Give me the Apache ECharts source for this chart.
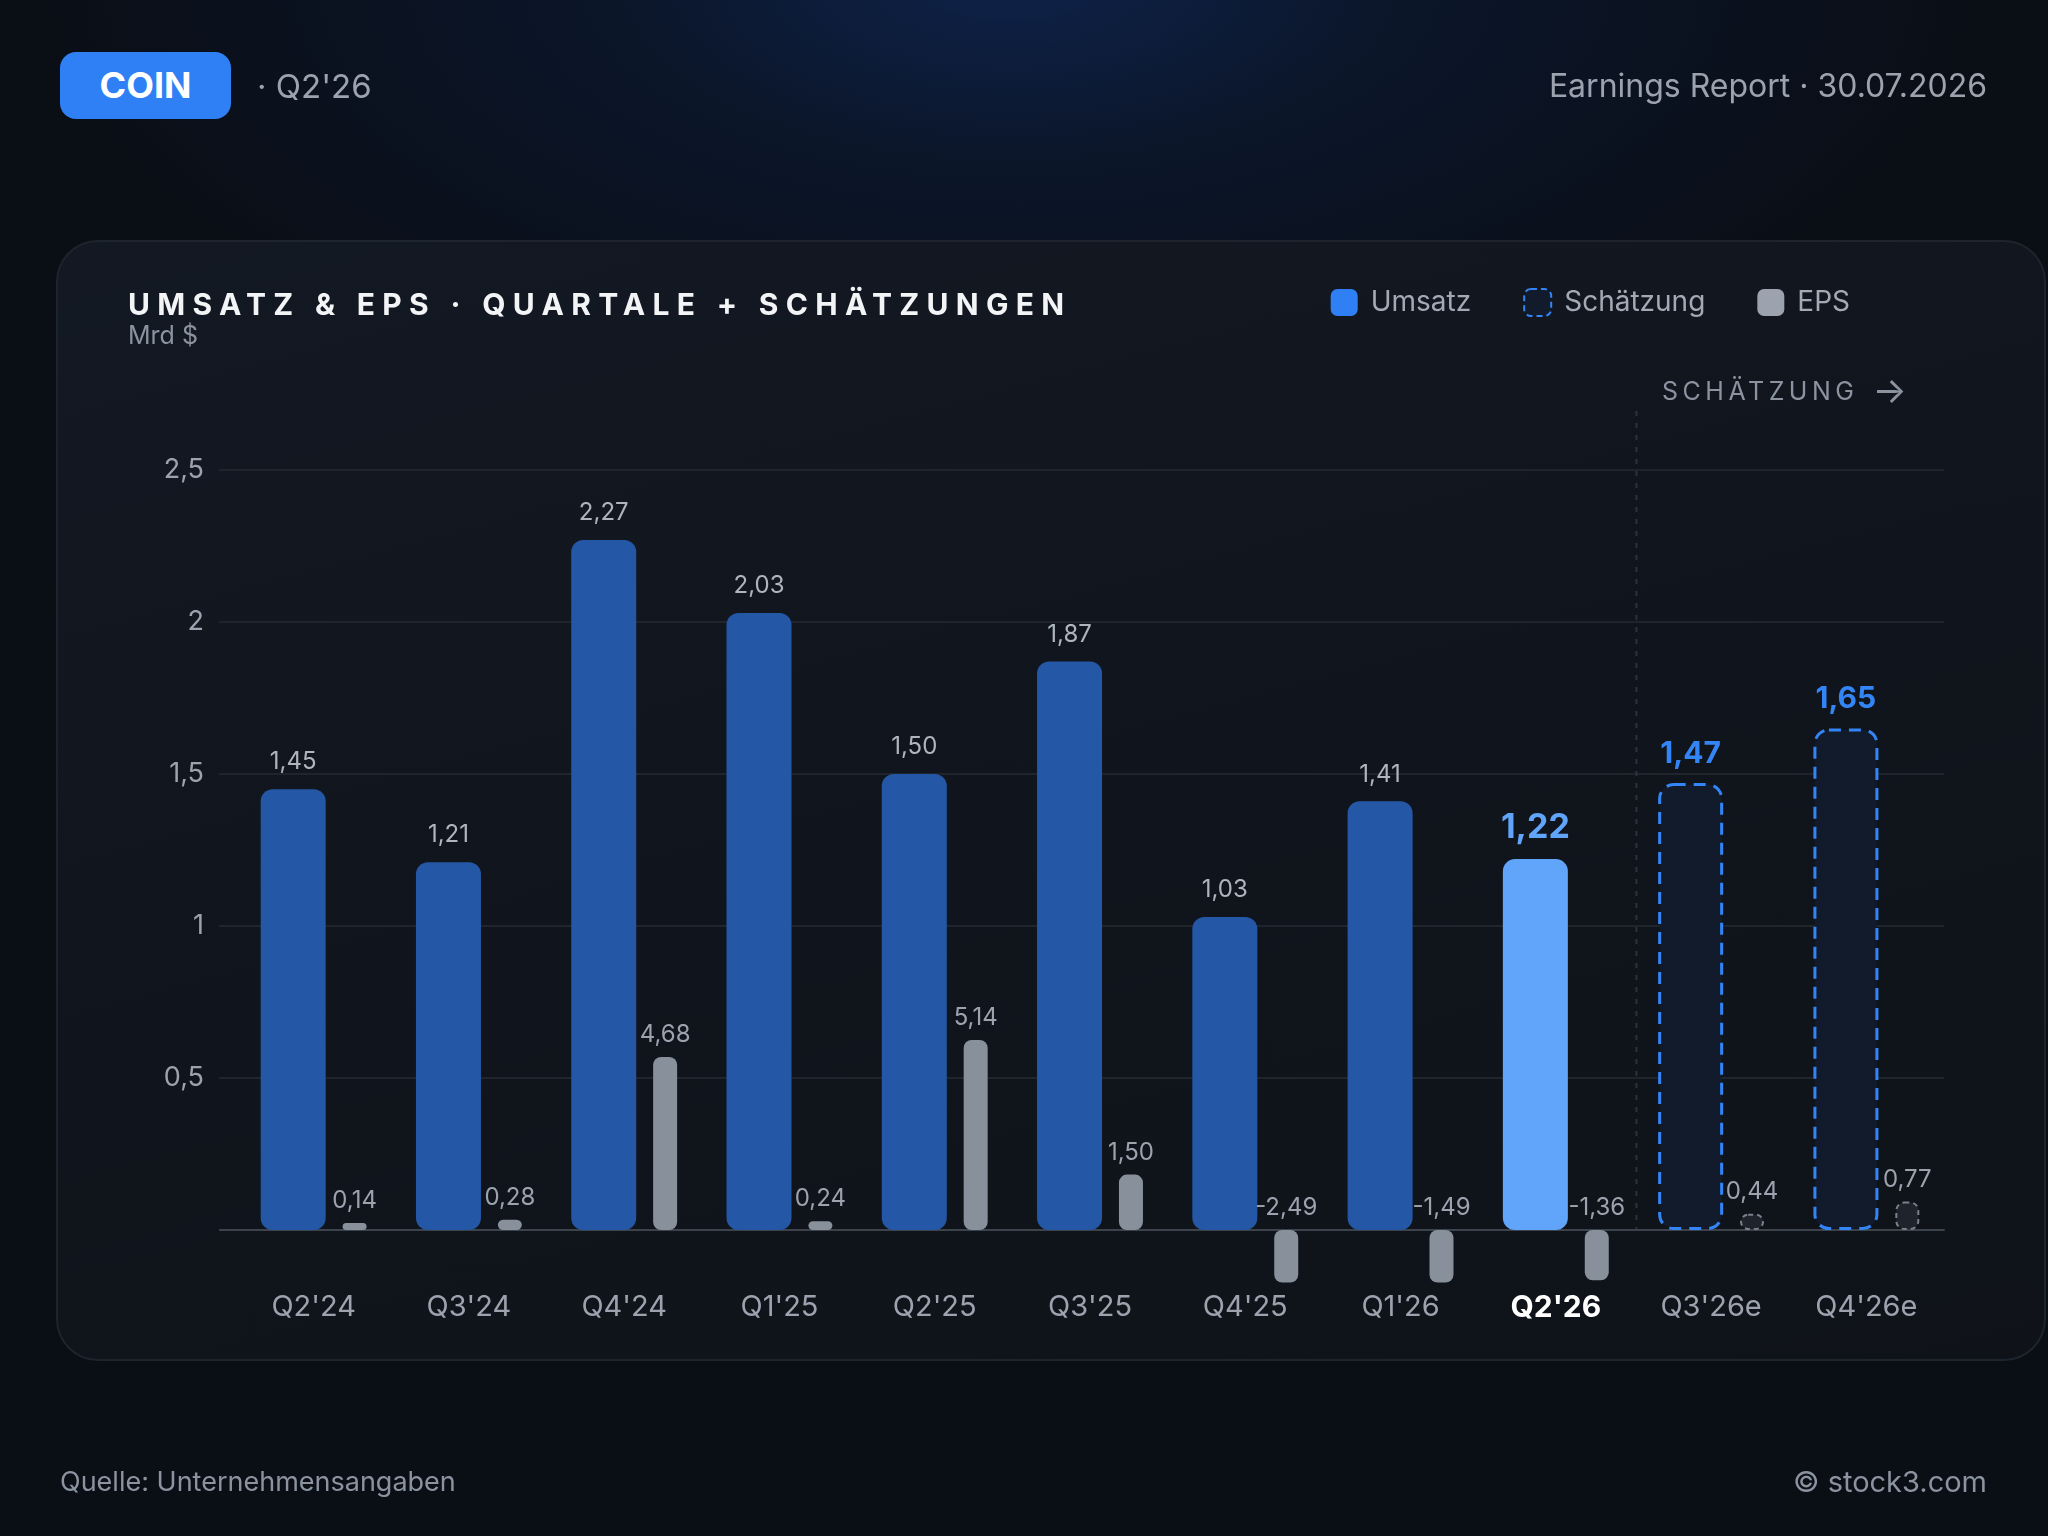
<!DOCTYPE html>
<html><head><meta charset="utf-8">
<script src="https://cdn.jsdelivr.net/npm/echarts@6/dist/echarts.min.js"></script>
<style>
html,body{margin:0;padding:0;width:2048px;height:1536px;overflow:hidden;background:#0a0e15;font-family:Inter,'Noto Sans',sans-serif;}
#bg{position:absolute;left:0;top:0;width:2048px;height:1536px;
 background:radial-gradient(ellipse 1000px 460px at 1010px -20px, #0e2249 0%, rgba(12,26,52,0.65) 40%, rgba(10,14,21,0) 100%), #0a0e15;}
#card{position:absolute;left:56px;top:240px;width:1990px;height:1121px;box-sizing:border-box;border:2px solid #1e242e;border-radius:42px;
 background:linear-gradient(165deg,#131923 0%,#10141c 55%,#0f1319 100%);}
#chart{position:absolute;left:0;top:0;width:2048px;height:1536px;}
.t{position:absolute;white-space:nowrap;}
#badge{left:60px;top:52px;width:171px;height:67px;border-radius:16px;background:#2f80f5;color:#fff;font-weight:700;font-size:36px;line-height:67px;text-align:center;}
#period{left:257px;top:69px;font-size:33px;line-height:34px;color:#9ca3af;}
#report{right:61px;top:70px;font-size:32px;line-height:32px;color:#9ca3af;}
#title{left:128px;top:289px;font-size:30px;line-height:30px;font-weight:700;letter-spacing:7.3px;color:#f3f4f6;}
#unit{left:128px;top:322px;font-size:25px;line-height:26px;color:#8b93a0;}
#est{left:1662px;top:377px;font-size:25px;line-height:26px;letter-spacing:4.5px;color:#8b93a0;}
#est span{font-size:36px;letter-spacing:0;margin-left:14px;vertical-align:-3px;}
#src{left:60px;top:1468px;font-size:27px;line-height:28px;color:#8b93a0;}
#copy{right:61px;top:1467px;font-size:29px;line-height:30px;color:#8b93a0;}
</style>
</head><body>
<div id="bg"></div>
<div id="card"></div>
<div id="chart"></div>
<div class="t" id="badge">COIN</div>
<div class="t" id="period">· Q2'26</div>
<div class="t" id="report">Earnings Report · 30.07.2026</div>
<div class="t" id="title">UMSATZ &amp; EPS · QUARTALE + SCHÄTZUNGEN</div>
<div class="t" id="unit">Mrd $</div>
<div class="t" id="est">SCHÄTZUNG<span>→</span></div>
<div class="t" id="src">Quelle: Unternehmensangaben</div>
<div class="t" id="copy">© stock3.com</div>
<script>
// ---- data ----
const CATEGORIES = ["Q2'24","Q3'24","Q4'24","Q1'25","Q2'25","Q3'25","Q4'25","Q1'26","Q2'26","Q3'26e","Q4'26e"];
const REVENUE = [1.45, 1.21, 2.27, 2.03, 1.50, 1.87, 1.03, 1.41, 1.22, 1.47, 1.65];
const EPS = [0.14, 0.28, 4.68, 0.24, 5.14, 1.50, -2.49, -1.49, -1.36, 0.44, 0.77];
const IS_ESTIMATE = [false, false, false, false, false, false, false, false, false, true, true];
const CURRENT_INDEX = 8;
const Y_TICKS = [0, 0.5, 1, 1.5, 2, 2.5];

const EPS_FLOOR = -1.42;   // negative EPS bars are drawn truncated
const fmt = v => v.toFixed(2).replace('.', ',');

const revActual = REVENUE.map((v, i) => {
  if (IS_ESTIMATE[i]) return null;
  if (i === CURRENT_INDEX) return {value: v, itemStyle: {color: '#60a5fa'},
    label: {color: '#60a5fa', fontSize: 34, fontWeight: 'bold', distance: 14}};
  return v;
});
const revEst = REVENUE.map((v, i) => IS_ESTIMATE[i] ? v : null);
const epsActual = EPS.map((v, i) => IS_ESTIMATE[i] ? null : {value: Math.max(v, EPS_FLOOR)});
const epsEst = EPS.map((v, i) => IS_ESTIMATE[i] ? {value: v} : null);

const chart = echarts.init(document.getElementById('chart'), null, {renderer: 'canvas'});
const epsLabel = {show: true, position: 'top', distance: 10, fontSize: 24, color: '#9ca3af', fontFamily: 'Inter',
  formatter: p => fmt(EPS[p.dataIndex])};

chart.setOption({
  backgroundColor: 'transparent',
  textStyle: {fontFamily: 'Inter'},
  animation: false,
  legend: {
    right: 198, top: 288, itemWidth: 27, itemHeight: 27, itemGap: 52, padding: 0,
    icon: 'roundRect',
    textStyle: {fontSize: 28, color: '#a3aab5', fontFamily: 'Inter', padding: [0, 0, 0, 8]},
    data: [
      {name: 'Umsatz', itemStyle: {color: '#2f80f5'}},
      {name: 'Schätzung', itemStyle: {color: '#111b2c', borderColor: '#3385f6', borderWidth: 2, borderType: [6, 4]}},
      {name: 'EPS', itemStyle: {color: '#9ca3af'}}
    ]
  },
  grid: {left: 236, right: 104, top: 470, bottom: 306, containLabel: false},
  xAxis: {
    type: 'category',
    data: CATEGORIES.map((c, i) => i === CURRENT_INDEX ?
      {value: c, textStyle: {color: '#ffffff', fontWeight: 'bold', fontSize: 30}} : c),
    axisLine: {lineStyle: {color: '#3d434d', width: 2}},
    axisTick: {show: false},
    axisLabel: {fontSize: 29, color: '#9ca3af', margin: 63, fontFamily: 'Inter'}
  },
  yAxis: [
    {type: 'value', min: Y_TICKS[0], max: Y_TICKS[Y_TICKS.length - 1], interval: 0.5,
     axisLine: {show: false}, axisTick: {show: false},
     splitLine: {lineStyle: {color: '#1f242d', width: 2}},
     axisLabel: {fontSize: 27, color: '#9ca3af', margin: 32, fontFamily: 'Inter',
       formatter: v => v === 0 ? '' : String(v).replace('.', ',')}},
    {type: 'value', min: 0, max: 20.56, show: false, splitLine: {show: false}}
  ],
  series: [
    {name: 'Umsatz', type: 'bar', stack: 'rev', data: revActual, barWidth: 65, barGap: '26%',
     itemStyle: {color: '#2458a6', borderRadius: 12},
     label: {show: true, position: 'top', distance: 15, fontSize: 24, color: '#aeb5bf', fontFamily: 'Inter',
       formatter: p => fmt(REVENUE[p.dataIndex])}},
    {name: 'Schätzung', type: 'bar', stack: 'rev', data: revEst, barWidth: 65, barGap: '26%',
     itemStyle: {color: '#111b2c', borderColor: '#3385f6', borderWidth: 3, borderType: [12, 8], borderRadius: 14},
     label: {show: true, position: 'top', distance: 14, fontSize: 30, fontWeight: 'bold', color: '#3385f6', fontFamily: 'Inter',
       formatter: p => fmt(REVENUE[p.dataIndex])}},
    {name: 'EPS', type: 'bar', stack: 'eps', yAxisIndex: 1, data: epsActual, barWidth: 24, barMinHeight: 7, clip: false,
     itemStyle: {color: '#88909b', borderRadius: 8}, label: epsLabel},
    {name: 'EPS Schätzung', type: 'bar', stack: 'eps', yAxisIndex: 1, data: epsEst, barWidth: 24, clip: false,
     itemStyle: {color: '#1f232b', borderColor: '#7a818c', borderWidth: 2, borderType: [5, 4], borderRadius: 8},
     label: epsLabel}
  ]
});

// divider between reported and estimated quarters, and left extension of grid lines
const xa = chart.convertToPixel({xAxisIndex: 0}, CATEGORIES[CURRENT_INDEX]);
const xb = chart.convertToPixel({xAxisIndex: 0}, CATEGORIES[CURRENT_INDEX + 1]);
const yBase = chart.convertToPixel({yAxisIndex: 0}, 0);
const xd = (xa + xb) / 2 + 3;
const gridLeft = chart.convertToPixel({xAxisIndex: 0}, CATEGORIES[0]) - (xb - xa) / 2;
const graphics = [{type: 'line', z: 0, silent: true,
  shape: {x1: xd, y1: 411, x2: xd, y2: yBase},
  style: {stroke: '#2c323c', lineWidth: 2, lineDash: [5, 7]}}];
Y_TICKS.forEach(t => {
  const y = chart.convertToPixel({yAxisIndex: 0}, t);
  graphics.push({type: 'line', z: 0, silent: true,
    shape: {x1: gridLeft - 17, y1: y, x2: gridLeft + 1, y2: y},
    style: {stroke: t === 0 ? '#3d434d' : '#1f242d', lineWidth: 2}});
});
chart.setOption({graphic: graphics});
</script>
</body></html>
